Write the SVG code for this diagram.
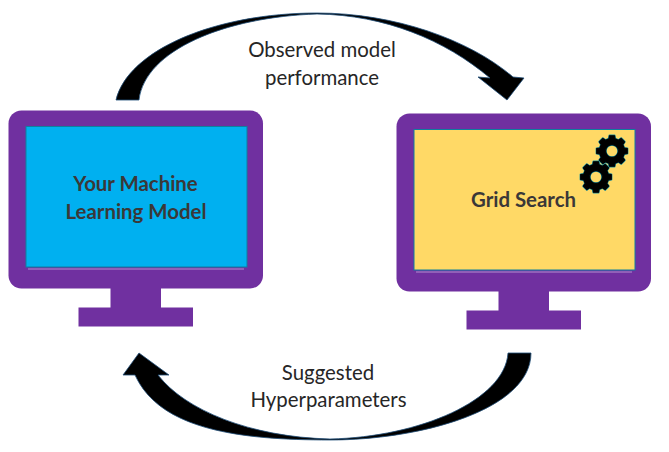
<svg xmlns="http://www.w3.org/2000/svg" xmlns:xlink="http://www.w3.org/1999/xlink" width="669" height="452" viewBox="0 0 669 452">
<style>
.frame{fill:#7030a0}
.screen{stroke:#0f7f9f;stroke-width:1}
.shine{stroke:#b18fcf;stroke-width:1;fill:none}
.arrow{fill:#000;stroke:#1f4e79;stroke-width:.8;stroke-linejoin:miter}
.lbl{font-family:"Lato","Carlito","Liberation Sans",sans-serif;font-size:20.4px;fill:#262626;text-anchor:middle}
.ttl{font-family:"Lato","Carlito","Liberation Sans",sans-serif;font-size:20.4px;font-weight:700;fill:#3b3838;text-anchor:middle}
.halo{fill:#17909f;stroke:#17909f;stroke-width:2.2;stroke-linejoin:round;fill-rule:evenodd}
.gear{fill:#000;stroke:#000;stroke-width:1.1;stroke-linejoin:round;fill-rule:evenodd}
</style>
<defs>
<path id="gearShape" d="M-3.02,-12.13L-2.5,-15.3L2.5,-15.3L3.02,-12.13L6.44,-10.71L9.1,-12.6L12.6,-9.1L10.71,-6.44L12.13,-3.02L15.3,-2.5L15.3,2.5L12.13,3.02L10.71,6.44L12.6,9.1L9.1,12.6L6.44,10.71L3.02,12.13L2.5,15.3L-2.5,15.3L-3.02,12.13L-6.44,10.71L-9.1,12.6L-12.6,9.1L-10.71,6.44L-12.13,3.02L-15.3,2.5L-15.3,-2.5L-12.13,-3.02L-10.71,-6.44L-12.6,-9.1L-9.1,-12.6L-6.44,-10.71ZM6.4,0A6.4,6.4 0 1 0 -6.4,0A6.4,6.4 0 1 0 6.4,0Z"/>
<g id="monitorFrame">
<rect class="frame" x="8.500" y="110.500" width="254.500" height="178" rx="13"/>
<rect class="frame" x="110.500" y="285" width="50.500" height="25"/>
<rect class="frame" x="78.500" y="307.500" width="114.500" height="19"/>
</g>
</defs>
<g id="connectors">
<path id="arrow-top" class="arrow" d="M116,100C128,50 215,13 317,13C395,13 470,40 513,77L524,78L507,100L478,77L490,78C445,40 385,15 317,14C225,17 145,50 139,100Z"/>
<path id="arrow-bottom" class="arrow" d="M508,353L531,353C531,410 420,440 330,440C240,440 160,430 135,375L123,375L139,353L169,375L158,375C185,410 250,437 330,439C420,437 505,400 508,353Z"/>
</g>
<g id="monitor-left">
<use href="#monitorFrame" xlink:href="#monitorFrame"/>
<rect class="screen" x="26" y="126.500" width="221" height="140.500" fill="#00b0f0"/>
<path class="shine" d="M28,269H244"/>
<text class="ttl" x="135.500" y="190.500">Your Machine</text>
<text class="ttl" x="136" y="218.500">Learning Model</text>
</g>
<g id="monitor-right">
<use href="#monitorFrame" xlink:href="#monitorFrame" transform="translate(388 3)"/>
<rect class="screen" x="414" y="129.500" width="221" height="140.500" fill="#ffd966"/>
<path class="shine" d="M416,272H632"/>
<text class="ttl" x="523.500" y="207">Grid Search</text>
<use class="halo" href="#gearShape" xlink:href="#gearShape" transform="translate(612 151)"/>
<use class="gear" href="#gearShape" xlink:href="#gearShape" transform="translate(612 151)"/>
<use class="halo" href="#gearShape" xlink:href="#gearShape" transform="translate(596 177)"/>
<use class="gear" href="#gearShape" xlink:href="#gearShape" transform="translate(596 177)"/>
</g>
<g id="label-top">
<text class="lbl" x="322" y="57">Observed model</text>
<text class="lbl" x="322" y="84.500">performance</text>
</g>
<g id="label-bottom">
<text class="lbl" x="328" y="380">Suggested</text>
<text class="lbl" x="328.500" y="407">Hyperparameters</text>
</g>
</svg>
